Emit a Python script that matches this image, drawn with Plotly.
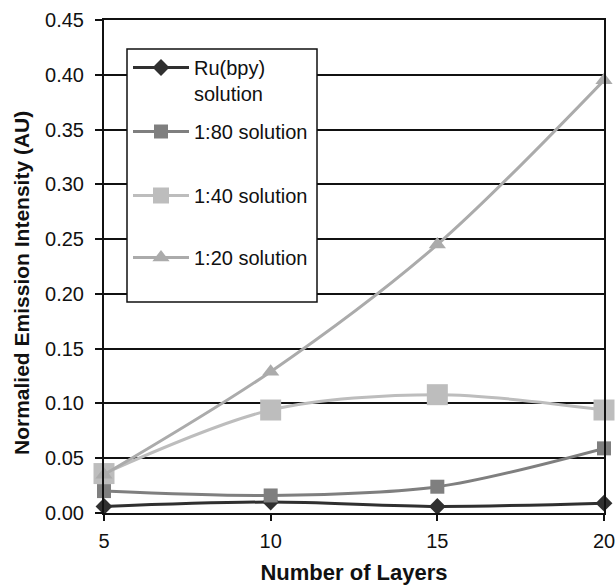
import plotly.graph_objects as go

layers = [5, 10, 15, 20]
ru_bpy = [0.006, 0.010, 0.006, 0.009]
s_1_80 = [0.020, 0.016, 0.024, 0.059]
s_1_40 = [0.036, 0.094, 0.108, 0.094]
s_1_20 = [0.035, 0.129, 0.245, 0.395]

names = ["Ru(bpy)<br>solution", "1:80 solution", "1:40 solution", "1:20 solution"]
series = [ru_bpy, s_1_80, s_1_40, s_1_20]
colors = ["#303030", "#7f7f7f", "#bdbdbd", "#ababab"]
symbols = ["diamond", "square", "square", "triangle-up"]
sizes = [13, 14, 21, 15]

W, H = 616, 585
L, R, T, B = 104, 604, 20, 513
pw, ph = R - L, B - T

def px(x):
    return (x - L) / pw

def py(y):
    return (B - y) / ph

legend_ids = ["legend", "legend2", "legend3", "legend4"]
legend_tops = [48, 112, 176, 238]

fig = go.Figure()
for i, (n, s, c, sym, sz) in enumerate(zip(names, series, colors, symbols, sizes)):
    fig.add_trace(go.Scatter(
        x=layers, y=s, name=n, mode="lines+markers",
        line=dict(color=c, width=3, shape="spline", smoothing=0.9),
        marker=dict(symbol=sym, size=sz, color=c),
        legend=legend_ids[i], cliponaxis=False,
    ))

# legend frame (white box with black border, as in the original)
fig.add_shape(type="rect", xref="paper", yref="paper",
              x0=px(127), x1=px(317), y0=py(302), y1=py(49),
              line=dict(color="#111", width=1.5), fillcolor="white", layer="above")

legend_common = dict(
    x=px(128), xanchor="left", yanchor="top",
    bgcolor="rgba(0,0,0,0)", borderwidth=0,
    font=dict(size=20), itemwidth=56, valign="top",
)

fig.update_layout(
    width=W, height=H,
    margin=dict(l=L, r=W - R, t=T, b=H - B, autoexpand=False),
    paper_bgcolor="white", plot_bgcolor="white",
    font=dict(family="Liberation Sans, Arial", size=20, color="#111"),
    showlegend=True,
    legend=dict(y=py(legend_tops[0]), **legend_common),
    legend2=dict(y=py(legend_tops[1]), **legend_common),
    legend3=dict(y=py(legend_tops[2]), **legend_common),
    legend4=dict(y=py(legend_tops[3]), **legend_common),
    xaxis=dict(
        range=[5, 20], tickvals=[5, 10, 15, 20], showgrid=False,
        showline=True, linecolor="#111", linewidth=2, mirror=True,
        ticks="outside", ticklen=6, tickcolor="#111", tickwidth=2,
        ticklabelstandoff=3,
        title=dict(text="<b>Number of Layers</b>", font=dict(size=22), standoff=23),
        zeroline=False,
    ),
    yaxis=dict(
        range=[0, 0.45], dtick=0.05, tickformat=".2f", showgrid=True,
        gridcolor="#111", gridwidth=2,
        showline=True, linecolor="#111", linewidth=2, mirror=True,
        ticks="outside", ticklen=7, tickcolor="#111", tickwidth=2,
        ticklabelstandoff=7,
        zeroline=False,
    ),
    annotations=[dict(
        text="<b>Normalied Emission Intensity (AU)</b>",
        xref="paper", yref="paper", x=px(21.5), y=py(283.5),
        xanchor="center", yanchor="middle", textangle=-90,
        showarrow=False, font=dict(size=21),
    )],
)

fig.write_html("out.html")
